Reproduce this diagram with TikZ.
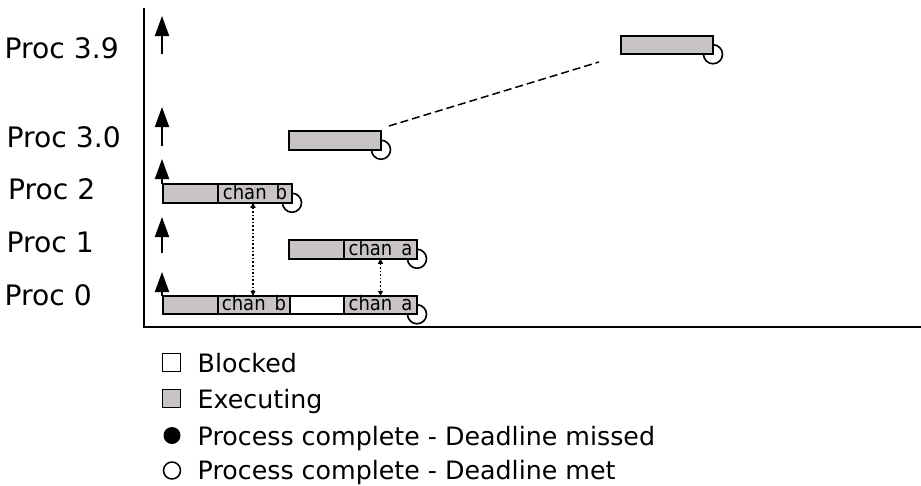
\documentclass[tikz,border=0pt]{standalone}
\usepackage{fontspec}
\setmainfont{DejaVu Sans}
\newfontfamily\chanfont[FakeStretch=0.9]{DejaVu Sans}
\usetikzlibrary{arrows.meta,backgrounds}
\definecolor{barfill}{RGB}{200,196,196}
\begin{document}
\begin{tikzpicture}[x=1pt,y=-1pt,
  seg/.style={draw,line width=1.6pt,inner sep=0pt,outer sep=0pt,minimum height=18.5pt},
  exe/.style={seg,fill=barfill},
  blk/.style={seg,fill=white},
  chantxt/.style={anchor=base,inner sep=0pt,font=\chanfont\fontsize{20}{22}\selectfont},
  done/.style={line width=1.6pt},
  proclbl/.style={anchor=base west,inner sep=0pt,font=\fontsize{28.2}{33}\selectfont},
  leglbl/.style={anchor=base west,inner sep=0pt,font=\fontsize{25.3}{30}\selectfont},
  release/.style={line width=2pt,-{Triangle[length=20pt,width=14pt]}},
  msg/.style={line width=1.5pt,dash pattern=on 1.6pt off 2pt,{Triangle[length=5pt,width=5pt]}-{Triangle[length=5pt,width=5pt]}},
  axisline/.style={line width=2pt},
  legbox/.style={draw,line width=1.5pt,minimum size=18pt,inner sep=0pt,outer sep=0pt},
]
\useasboundingbox (0,0) rectangle (921,485);

% axes
\coordinate (ytop) at (144,8);
\coordinate (orig) at (144,327);
\coordinate (xend) at (921,327);
\draw[axisline] (ytop) -- (orig) -- (xend);

% labels
\node[proclbl] (l39) at (4.5,58) {Proc 3.9};
\node[proclbl] (l30) at (6.5,147) {Proc 3.0};
\node[proclbl] (l2) at (8,199) {Proc 2};
\node[proclbl] (l1) at (6.5,252) {Proc 1};
\node[proclbl] (l0) at (4.5,305) {Proc 0};

% bars
\node[exe,minimum width=92pt] (p39) at (667,45) {};
\node[exe,minimum width=92pt] (p30) at (335,140.5) {};
\node[exe,minimum width=55pt] (p2a) at (190.5,193.5) {};
\node[exe,minimum width=74pt] (p2b) at (255,193.5) {};
\node[exe,minimum width=55pt] (p1a) at (316.5,249.5) {};
\node[exe,minimum width=73pt] (p1b) at (380.5,249.5) {};
\node[exe,minimum width=55pt] (p0a) at (190.5,305) {};
\node[exe,minimum width=72pt] (p0b) at (254,305) {};
\node[blk,minimum width=54pt] (p0c) at (317,305) {};
\node[exe,minimum width=73pt] (p0d) at (380.5,305) {};

% channel texts
\node[chantxt] (t2b) at ([yshift=3.6pt]p2b.south) {chan\_b};
\node[chantxt] (t1b) at ([yshift=3.6pt]p1b.south) {chan\_a};
\node[chantxt] (t0b) at ([yshift=3.6pt]p0b.south) {chan\_b};
\node[chantxt] (t0d) at ([yshift=3.6pt]p0d.south) {chan\_a};

% completion circles (behind bars)
\begin{pgfonlayer}{background}
\draw[done] (p39.south east) circle[radius=9.5pt];
\draw[done] (p30.south east) circle[radius=9.5pt];
\draw[done] (p2b.south east) circle[radius=9.5pt];
\draw[done] (p1b.south east) circle[radius=9.5pt];
\draw[done] (p0d.south east) circle[radius=9.5pt];
\end{pgfonlayer}

% release arrows
\coordinate (r39) at (162,54);
\coordinate (r30) at (162,146);
\coordinate (r2) at (162,184);
\coordinate (r1) at (162,253);
\coordinate (r0) at (162,296);
\draw[release] (r39) -- ++(0,-38);
\draw[release] (r30) -- ++(0,-39);
\draw[release] (r2) -- ++(0,-25);
\draw[release] (r1) -- ++(0,-36);
\draw[release] (r0) -- ++(0,-24);

% messages
\draw[msg] ([xshift=-2pt]p2b.south) -- ([xshift=-2pt]p2b.south |- p0b.north);
\draw[msg] (p1b.south) -- (p0d.north);

% dashed link
\draw[line width=1.5pt,dash pattern=on 8pt off 4pt] ([shift={(8,-14.5)}]p30.east) -- ([shift={(-22,17)}]p39.west);

% legend
\node[legbox,fill=white] (lb) at (171.5,362.5) {};
\node[leglbl] (tb) at (197.5,372) {Blocked};
\node[legbox,fill=barfill] (le) at (171.5,398.5) {};
\node[leglbl] (te) at (197.5,408) {Executing};
\node[circle,fill=black,minimum size=17pt,inner sep=0pt] (lm) at (172,435.5) {};
\node[leglbl] (tm) at (197.5,445) {Process complete - Deadline missed};
\node[circle,draw,line width=1.5pt,minimum size=17pt,inner sep=0pt] (lt) at (172,470.5) {};
\node[leglbl] (tt) at (197.5,479) {Process complete - Deadline met};
\end{tikzpicture}
\end{document}
